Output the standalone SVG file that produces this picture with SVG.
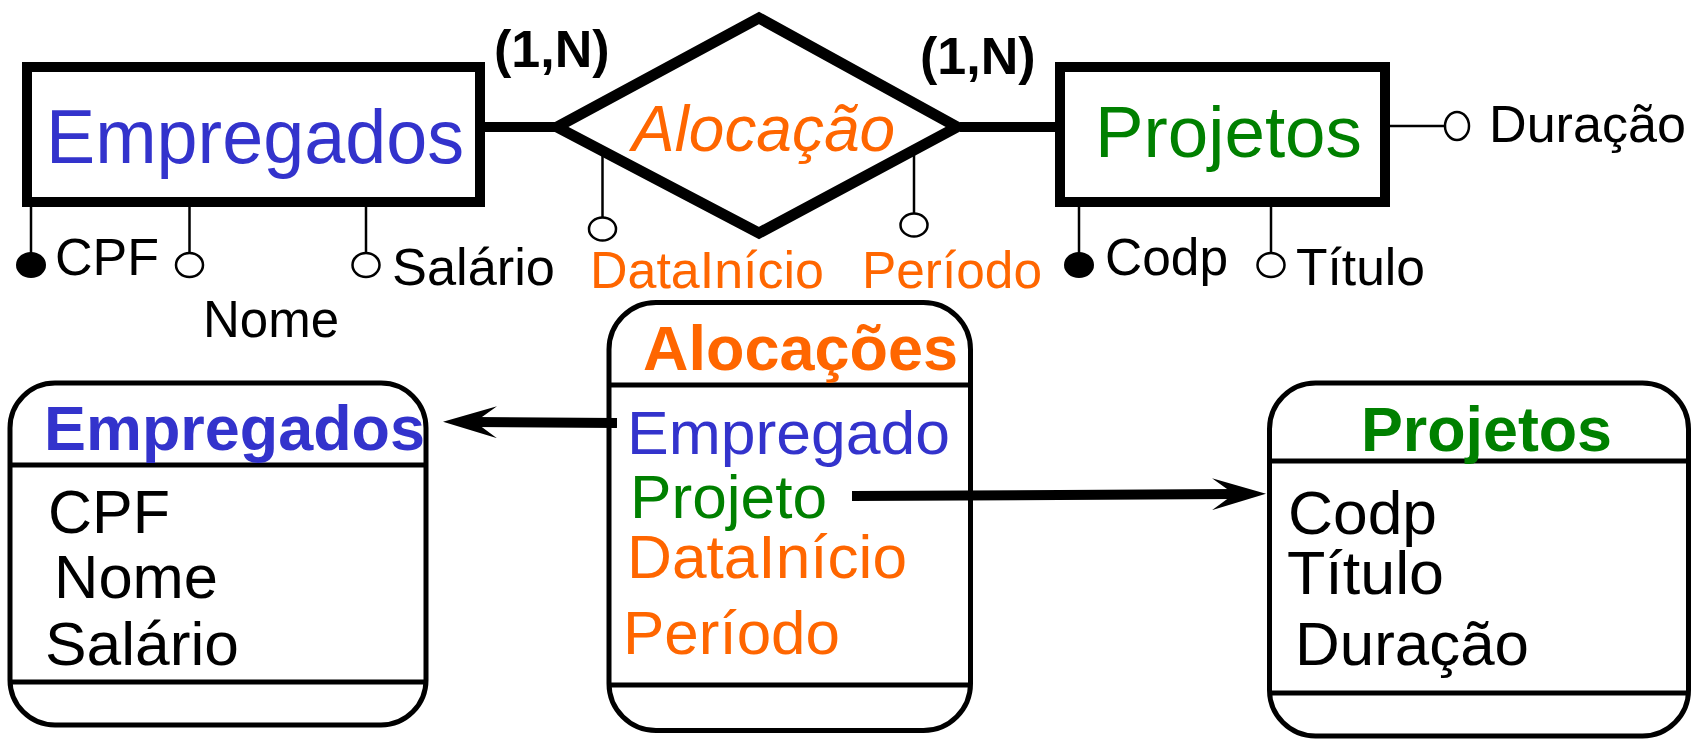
<svg xmlns="http://www.w3.org/2000/svg" width="1693" height="740" viewBox="0 0 1693 740">
<style>
text{font-family:"Liberation Sans",Arial,Helvetica,sans-serif}
.ent{fill:#fff;stroke:#000;stroke-width:10}
.tbl{fill:#fff;stroke:#000;stroke-width:5}
.sep{stroke:#000;stroke-width:5}
.stem{stroke:#000;stroke-width:2.5}
.open{fill:#fff;stroke:#000;stroke-width:2.5}
.key{fill:#000}
.lnk{stroke:#000;stroke-width:10;fill:none}
.card{font-weight:bold;font-size:52px;fill:#000}
.attr{font-size:52px;fill:#000}
.blue{fill:#3333cc}
.green{fill:#008000}
.orange{fill:#ff6600}
.hdr{font-weight:bold;font-size:63px}
.row{font-size:62px}
</style>
<defs>
<marker id="arr" viewBox="0 0 54 32" refX="22" refY="16" markerWidth="54" markerHeight="32" markerUnits="userSpaceOnUse" orient="auto">
<path d="M0,0 L54,16 L0,32 L22,16 Z" fill="#000"/>
</marker>
</defs>

<g id="empregados-entity">
<rect class="ent" x="27" y="67" width="453" height="135"/>
<text x="46" y="163" font-size="76" class="blue" textLength="418" lengthAdjust="spacingAndGlyphs">Empregados</text>
<line class="stem" x1="31" y1="207" x2="31" y2="254"/>
<ellipse class="key" cx="31" cy="265" rx="15" ry="13"/>
<text class="attr" x="55" y="275" textLength="104" lengthAdjust="spacingAndGlyphs">CPF</text>
<line class="stem" x1="189.5" y1="207" x2="189.5" y2="253"/>
<ellipse class="open" cx="189.5" cy="265" rx="13.5" ry="12"/>
<text class="attr" x="203" y="337" textLength="136" lengthAdjust="spacingAndGlyphs">Nome</text>
<line class="stem" x1="366" y1="207" x2="366" y2="253"/>
<ellipse class="open" cx="366" cy="265" rx="13.5" ry="12"/>
<text class="attr" x="392" y="285" textLength="163" lengthAdjust="spacingAndGlyphs">Salário</text>
</g>

<g id="alocacao-relationship">
<polygon points="557,127 759,18 957,127 759,233" fill="#fff" stroke="#000" stroke-width="11" stroke-linejoin="miter"/>
<text x="632" y="151" font-size="64" font-style="italic" class="orange" textLength="263" lengthAdjust="spacingAndGlyphs">Alocação</text>
<text class="card" x="494" y="67">(1,N)</text>
<text class="card" x="920" y="74">(1,N)</text>
<line class="stem" x1="602.5" y1="150" x2="602.5" y2="217"/>
<ellipse class="open" cx="602.5" cy="229" rx="13.5" ry="11.5"/>
<text class="attr orange" x="590" y="288" textLength="234" lengthAdjust="spacingAndGlyphs">DataInício</text>
<line class="stem" x1="914" y1="150" x2="914" y2="213"/>
<ellipse class="open" cx="914" cy="225" rx="13.5" ry="11.5"/>
<text class="attr orange" x="862" y="288" textLength="180" lengthAdjust="spacingAndGlyphs">Período</text>
</g>

<g id="projetos-entity">
<rect class="ent" x="1060" y="67" width="325" height="135"/>
<text x="1095" y="157" font-size="72" class="green" textLength="267" lengthAdjust="spacingAndGlyphs">Projetos</text>
<line class="stem" x1="1390" y1="126" x2="1445" y2="126"/>
<ellipse class="open" cx="1457" cy="126" rx="12" ry="14"/>
<text class="attr" x="1489" y="142" textLength="197" lengthAdjust="spacingAndGlyphs">Duração</text>
<line class="stem" x1="1079" y1="207" x2="1079" y2="254"/>
<ellipse class="key" cx="1079" cy="265" rx="15" ry="13"/>
<text class="attr" x="1105" y="275" textLength="123" lengthAdjust="spacingAndGlyphs">Codp</text>
<line class="stem" x1="1271" y1="207" x2="1271" y2="253"/>
<ellipse class="open" cx="1271" cy="265" rx="13.5" ry="12"/>
<text class="attr" x="1296" y="285" textLength="129" lengthAdjust="spacingAndGlyphs">Título</text>
</g>

<g id="empregados-table">
<rect class="tbl" x="10" y="383" width="416" height="342" rx="45" ry="45"/>
<line class="sep" x1="10" y1="465" x2="426" y2="465"/>
<line class="sep" x1="10" y1="682" x2="426" y2="682"/>
<text class="hdr blue" x="44" y="450" textLength="381" lengthAdjust="spacingAndGlyphs">Empregados</text>
<text class="row" x="48" y="533" fill="#000" textLength="122" lengthAdjust="spacingAndGlyphs">CPF</text>
<text class="row" x="54" y="598" fill="#000" textLength="164" lengthAdjust="spacingAndGlyphs">Nome</text>
<text class="row" x="45" y="665" fill="#000" textLength="194" lengthAdjust="spacingAndGlyphs">Salário</text>
</g>

<g id="alocacoes-table">
<rect class="tbl" x="609" y="302.5" width="361.5" height="428" rx="47" ry="47"/>
<line class="sep" x1="609" y1="385" x2="970.5" y2="385"/>
<line class="sep" x1="609" y1="685" x2="970.5" y2="685"/>
<text class="hdr orange" x="643" y="370" textLength="315" lengthAdjust="spacingAndGlyphs">Alocações</text>
<text class="row blue" x="627" y="454" textLength="323" lengthAdjust="spacingAndGlyphs">Empregado</text>
<text class="row green" x="630" y="518" textLength="197" lengthAdjust="spacingAndGlyphs">Projeto</text>
<text class="row orange" x="627" y="578" textLength="280" lengthAdjust="spacingAndGlyphs">DataInício</text>
<text class="row orange" x="623" y="654" textLength="217" lengthAdjust="spacingAndGlyphs">Período</text>
</g>

<g id="projetos-table">
<rect class="tbl" x="1269.5" y="383" width="419" height="353" rx="46" ry="46"/>
<line class="sep" x1="1269.5" y1="461" x2="1688.5" y2="461"/>
<line class="sep" x1="1269.5" y1="693" x2="1688.5" y2="693"/>
<text class="hdr green" x="1361" y="451" textLength="251" lengthAdjust="spacingAndGlyphs">Projetos</text>
<text class="row" x="1288" y="534" fill="#000" textLength="149" lengthAdjust="spacingAndGlyphs">Codp</text>
<text class="row" x="1287" y="594" fill="#000" textLength="157" lengthAdjust="spacingAndGlyphs">Título</text>
<text class="row" x="1295" y="665" fill="#000" textLength="234" lengthAdjust="spacingAndGlyphs">Duração</text>
</g>

<g id="connectors">
<line class="lnk" x1="483" y1="127" x2="555" y2="127"/>
<line class="lnk" x1="960" y1="127" x2="1056" y2="127"/>
<line class="lnk" x1="617" y1="423" x2="475" y2="422" marker-end="url(#arr)"/>
<line class="lnk" x1="852" y1="496" x2="1234" y2="494" marker-end="url(#arr)"/>
</g>
</svg>
